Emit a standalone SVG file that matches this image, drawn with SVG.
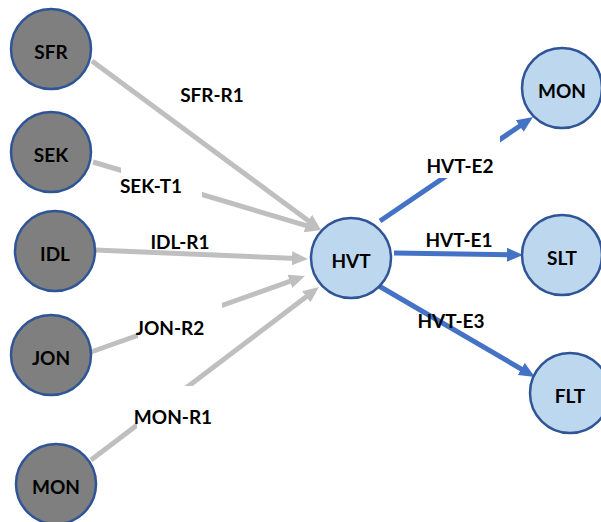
<svg xmlns="http://www.w3.org/2000/svg" width="601" height="522" viewBox="0 0 601 522">
  <style>
    .src circle { fill: #7f7f7f; stroke: #2f5597; stroke-width: 2.5; }
    .dst circle { fill: #bdd7ee; stroke: #2f5597; stroke-width: 2.5; }
    text { font-family: Lato, "Liberation Sans", Arial, sans-serif; font-weight: bold; font-size: 19px; fill: #000; text-anchor: middle; }
    .gray { stroke: #bfbfbf; stroke-width: 5; fill: none; }
    .blue { stroke: #4472c4; stroke-width: 5; fill: none; }
    .gray.arrow { marker-end: url(#ahGray); }
    .blue.arrow { marker-end: url(#ahBlue); }
    .lblbg { fill: #ffffff; }
  </style>
  <defs>
    <marker id="ahGray" markerUnits="userSpaceOnUse" markerWidth="16" markerHeight="14" refX="5" refY="7" orient="auto">
      <path d="M0,0 L16,7 L0,14 z" fill="#bfbfbf"/>
    </marker>
    <marker id="ahBlue" markerUnits="userSpaceOnUse" markerWidth="16" markerHeight="14" refX="5" refY="7" orient="auto">
      <path d="M0,0 L16,7 L0,14 z" fill="#4472c4"/>
    </marker>
  </defs>

  <rect width="601" height="522" fill="#ffffff"/>

  <!-- connectors -->
  <g id="connectors">
    <line class="gray arrow" x1="92" y1="61" x2="312.1" y2="223.5"/>
    <line class="gray arrow" x1="93" y1="162" x2="310.5" y2="226.9"/>
    <line class="gray arrow" x1="95" y1="250" x2="297" y2="258.5"/>
    <line class="gray arrow" x1="91" y1="352" x2="294.6" y2="279.7"/>
    <line class="gray arrow" x1="91" y1="460" x2="310.2" y2="293.7"/>
    <line class="blue arrow" x1="380" y1="221" x2="523.9" y2="123.2"/>
    <line class="blue arrow" x1="394" y1="253" x2="512" y2="254.8"/>
    <line class="blue arrow" x1="379" y1="286" x2="525.5" y2="371.5"/>

    <!-- label backgrounds that interrupt the lines -->
    <rect class="lblbg" x="121" y="166" width="81" height="34"/>
    <rect class="lblbg" x="138" y="300" width="84" height="40"/>
    <rect class="lblbg" x="137" y="386" width="76" height="44"/>
    <rect class="lblbg" x="420" y="135" width="80" height="43"/>

    <text x="212" y="102">SFR-R1</text>
    <text x="151" y="193">SEK-T1</text>
    <text x="180" y="249">IDL-R1</text>
    <text x="170" y="335">JON-R2</text>
    <text x="173" y="424">MON-R1</text>
    <text x="460" y="173">HVT-E2</text>
    <text x="459" y="247">HVT-E1</text>
    <text x="451" y="328">HVT-E3</text>
  </g>

  <!-- source nodes -->
  <g id="node-SFR" class="src"><circle cx="51" cy="49" r="40"/><text x="51" y="59">SFR</text></g>
  <g id="node-SEK" class="src"><circle cx="51" cy="152" r="40"/><text x="51" y="162">SEK</text></g>
  <g id="node-IDL" class="src"><circle cx="55" cy="251" r="40"/><text x="55" y="261">IDL</text></g>
  <g id="node-JON" class="src"><circle cx="51" cy="355" r="40"/><text x="51" y="365">JON</text></g>
  <g id="node-MON-src" class="src"><circle cx="56" cy="484" r="40"/><text x="56" y="494">MON</text></g>

  <!-- hub and target nodes -->
  <g id="node-HVT" class="dst"><circle cx="351" cy="258" r="40"/><text x="351" y="268">HVT</text></g>
  <g id="node-MON" class="dst"><circle cx="562" cy="88" r="40"/><text x="562" y="98">MON</text></g>
  <g id="node-SLT" class="dst"><circle cx="562" cy="255" r="40"/><text x="562" y="265">SLT</text></g>
  <g id="node-FLT" class="dst"><circle cx="570" cy="393" r="40"/><text x="570" y="403">FLT</text></g>
</svg>
